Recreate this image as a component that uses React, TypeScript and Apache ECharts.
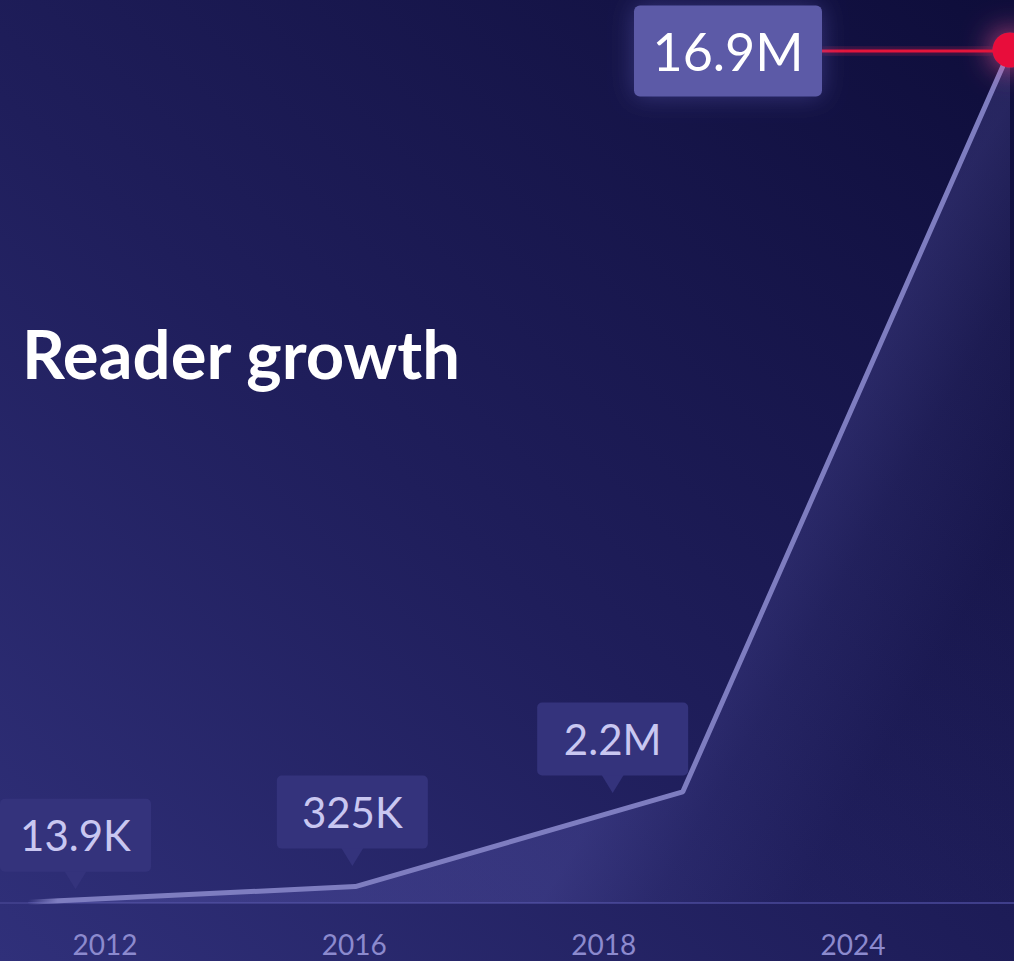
import React, { useEffect, useRef } from 'react';
import * as echarts from 'echarts';

// ---- data ----
const years = ['2012', '2016', '2018', '2024'];
const readers = [13900, 325000, 2200000, 16900000];
const readerLabels = ['13.9K', '325K', '2.2M', '16.9M'];
const titleText = 'Reader growth';

// ---- layout (pixel offsets of the callouts relative to their points) ----
const calloutOffsets = [
  [47.5, -22],
  [-3, -29.5],
  [-70, -8],
];

const W = 1014;
const H = 961;
const FONT = 'Lato';

export default function App() {
  const ref = useRef<HTMLDivElement>(null);

  useEffect(() => {
    document.body.style.margin = '0';
    if (!ref.current) return;
    const chart = echarts.init(ref.current, null, { renderer: 'svg' });
    const last = readers.length - 1;
    const maxVal = Math.max(...readers);

    const smallCallouts = readers.slice(0, last).map((v, i) => ({
      coord: [years[i], v],
      symbol: 'triangle',
      symbolRotate: 180,
      symbolSize: [22, 18],
      symbolOffset: calloutOffsets[i],
      itemStyle: { color: '#34337c' },
      label: {
        show: true,
        position: 'top',
        distance: -0.5,
        formatter: readerLabels[i],
        width: 151,
        height: 73,
        lineHeight: 73,
        backgroundColor: '#34337c',
        borderRadius: 5,
        color: '#c9c7f1',
        fontSize: 42,
        fontFamily: FONT,
      },
    }));

    const bigCallout = {
      coord: [years[last], readers[last]],
      symbol: 'rect',
      symbolSize: [171, 3],
      symbolOffset: [-102.5, 1],
      itemStyle: {
        color: '#e3123a',
        shadowBlur: 8,
        shadowColor: 'rgba(255,40,90,0.7)',
      },
      label: {
        show: true,
        position: 'left',
        distance: 94,
        align: 'center',
        verticalAlign: 'middle',
        formatter: readerLabels[last],
        width: 188,
        height: 91,
        lineHeight: 91,
        backgroundColor: '#5b5aa7',
        borderRadius: 6,
        color: '#ffffff',
        fontSize: 52,
        fontFamily: FONT,
        shadowBlur: 24,
        shadowColor: 'rgba(120,118,220,0.35)',
      },
    };

    const option: any = {
      animation: false,
      backgroundColor: {
        type: 'linear',
        x: 0,
        y: 1,
        x2: 1,
        y2: 0,
        colorStops: [
          { offset: 0, color: '#30307a' },
          { offset: 0.45, color: '#1f1e5b' },
          { offset: 1, color: '#0e0d3a' },
        ],
      },
      title: {
        text: titleText,
        left: 17,
        top: 314,
        textStyle: {
          color: '#ffffff',
          fontSize: 67,
          fontWeight: 'bold',
          fontFamily: FONT,
        },
      },
      grid: [
        { left: 28, right: 4, top: 50, bottom: 58 },
        { left: 105, right: 161, top: 50, bottom: 58 },
      ],
      xAxis: [
        { type: 'category', gridIndex: 0, data: years, boundaryGap: false, show: false },
        {
          type: 'category',
          gridIndex: 1,
          data: years,
          boundaryGap: false,
          axisLine: { show: false },
          axisTick: { show: false },
          axisLabel: {
            color: '#8c8ace',
            fontSize: 28,
            lineHeight: 28,
            fontFamily: FONT,
            margin: 27,
          },
        },
      ],
      yAxis: [
        { type: 'value', gridIndex: 0, min: 0, max: maxVal, show: false },
        { type: 'value', gridIndex: 1, show: false },
      ],
      series: [
        {
          type: 'line',
          xAxisIndex: 0,
          yAxisIndex: 0,
          clip: false,
          z: 3,
          data: readers.map((v, i) =>
            i === last
              ? {
                  value: v,
                  symbol: 'circle',
                  symbolSize: 35,
                  itemStyle: {
                    color: '#e8093a',
                    shadowBlur: 30,
                    shadowColor: 'rgba(255,90,150,0.9)',
                  },
                }
              : { value: v, symbol: 'none' }
          ),
          lineStyle: {
            width: 5,
            color: {
              type: 'linear',
              x: 0,
              y: 0,
              x2: 1,
              y2: 0,
              colorStops: [
                { offset: 0, color: 'rgba(126,125,192,0)' },
                { offset: 0.03, color: 'rgba(126,125,192,1)' },
                { offset: 1, color: 'rgba(126,125,192,1)' },
              ],
            },
          },
          areaStyle: {
            color: {
              type: 'linear',
              x: 0.903,
              y: 0.25,
              x2: 1.108,
              y2: 0.354,
              colorStops: [
                { offset: 0, color: 'rgba(112,110,205,0.34)' },
                { offset: 0.45, color: 'rgba(112,110,205,0.14)' },
                { offset: 1, color: 'rgba(112,110,205,0.02)' },
              ],
            },
          },
          markPoint: {
            z: 5,
            data: [...smallCallouts, bigCallout],
          },
        },
      ],
    };

    chart.setOption(option);

    const y0 = chart.convertToPixel({ yAxisIndex: 0 } as any, 0) as number;
    chart.setOption({
      graphic: [
        {
          type: 'line',
          z: 1,
          shape: { x1: 0, y1: y0, x2: W, y2: y0 },
          style: { stroke: '#3f3e8a', lineWidth: 2 },
        },
      ],
    });

    return () => chart.dispose();
  }, []);

  return <div ref={ref} style={{ width: W, height: H }} />;
}
